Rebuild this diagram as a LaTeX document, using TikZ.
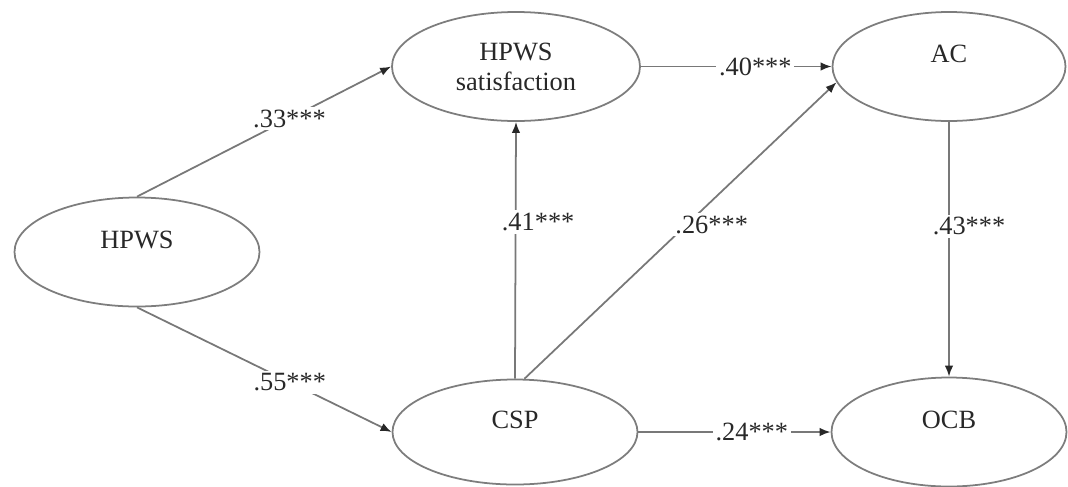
\documentclass[tikz,border=0pt]{standalone}
\usepackage{fontspec}
\setmainfont{Liberation Serif}
\usetikzlibrary{arrows.meta,positioning,calc,shapes.geometric}
\definecolor{ink}{RGB}{40,40,40}
\definecolor{edgegray}{RGB}{120,120,120}
\definecolor{rimgray}{RGB}{125,125,125}
\tikzset{
	flow/.style={-{Latex[length=2.2mm,width=1.7mm,color=ink]},line width=1pt,draw=edgegray},
	latent/.style={ellipse,draw=rimgray,line width=1pt,fill=white,align=center,
		text=ink,inner sep=0pt,minimum width=4.9cm,minimum height=2.18cm},
	raised/.style={text depth=0.5cm},
	coef/.style={fill=white,inner sep=1.5pt,text=ink},
}

\begin{document}
\begin{tikzpicture}[font=\fontsize{15}{17}\selectfont]
	\useasboundingbox (0,0) rectangle (21.36,-9.72);
	
	\node[latent,raised] (hpws) at (2.74,-5.04) {HPWS};
	\node[latent,minimum width=4.96cm] (sat) at (10.32,-1.33) {HPWS\\satisfaction};
	\node[latent,raised,minimum width=4.66cm] (ac) at (18.98,-1.33) {AC};
	\node[latent,raised,minimum height=2.1cm] (csp) at (10.30,-8.64) {CSP};
	\node[latent,raised,minimum width=4.7cm] (ocb) at (18.98,-8.64) {OCB};
	
	\draw[flow] (hpws.north) -- node[coef,pos=0.6] {.33***} (sat.west);
	\draw[flow] (hpws.south) -- node[coef,pos=0.6] {.55***} (csp.west);
	\draw[flow] (sat.east) -- node[coef,pos=0.6] {.40***} (ac.west);
	\draw[flow] (csp.north) -- node[coef,pos=0.61,xshift=0.45cm] {.41***} (sat.south);
	\draw[flow] (csp.80) -- node[coef,pos=0.52,xshift=0.5cm] {.26***} (ac.188);
	\draw[flow] (ac.south) -- node[coef,pos=0.41,xshift=0.4cm] {.43***} (ocb.north);
	\draw[flow] (csp.east) -- node[coef,pos=0.59] {.24***} (ocb.west);
	
\end{tikzpicture}
\end{document}
